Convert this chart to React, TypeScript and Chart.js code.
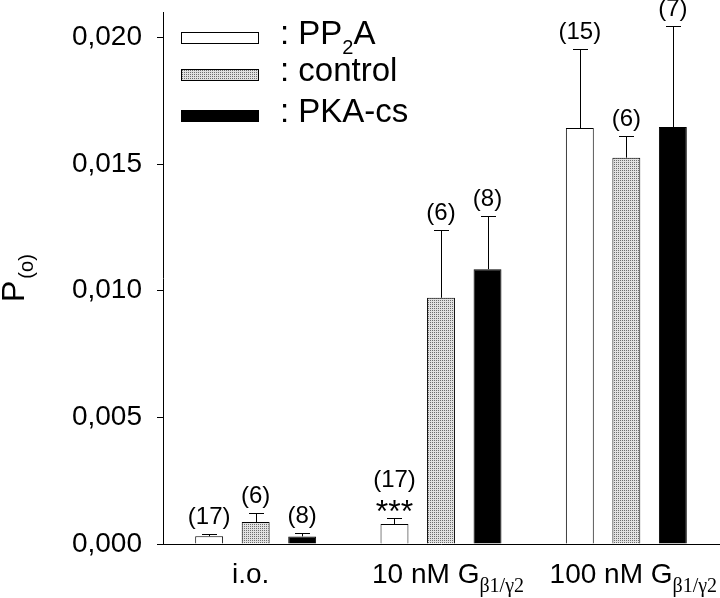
import React, { useEffect, useRef } from "react";
import { Chart, registerables } from "chart.js";

Chart.register(...registerables);

// ---- data ----
const categories = ["i.o.", "10 nM G", "100 nM G"];
const categorySubs = ["", "β1/γ2", "β1/γ2"];
const seriesNames = ["PP", "control", "PKA-cs"];

const pp2aValues = [0.00031, 0.00079, 0.01642];
const pp2aSem = [0.0001, 0.00022, 0.0031];
const pp2aN = ["(17)", "(17)", "(15)"];
const pp2aSig = ["", "***", ""];

const controlValues = [0.00087, 0.00972, 0.01525];
const controlSem = [0.00034, 0.00268, 0.00084];
const controlN = ["(6)", "(6)", "(6)"];

const pkaValues = [0.0003, 0.01085, 0.01646];
const pkaSem = [0.00015, 0.00208, 0.004];
const pkaN = ["(8)", "(8)", "(7)"];

const yTicks = [0, 0.005, 0.01, 0.015, 0.02];
const yMax = 0.021;

const SANS = "'Liberation Sans', Arial, Helvetica, sans-serif";
const SERIF = "'Liberation Serif', 'Times New Roman', serif";

function makePattern(): CanvasPattern | string {
  const c = document.createElement("canvas");
  c.width = 2;
  c.height = 2;
  const g = c.getContext("2d");
  if (!g) return "#c4c4c4";
  g.fillStyle = "#e2e2e2";
  g.fillRect(0, 0, 2, 2);
  g.fillStyle = "#6e6e6e";
  g.fillRect(0, 0, 1, 1);
  const p = g.createPattern(c, "repeat");
  return p || "#c4c4c4";
}

export default function App() {
  const ref = useRef<HTMLCanvasElement | null>(null);

  useEffect(() => {
    const canvas = ref.current;
    if (!canvas) return;
    const pattern = makePattern();
    const sems = [pp2aSem, controlSem, pkaSem];
    const ns = [pp2aN, controlN, pkaN];
    const fills: any[] = ["#ffffff", pattern, "#000000"];

    const overlay = {
      id: "overlay",
      afterDatasetsDraw(chart: any) {
        const ctx = chart.ctx as CanvasRenderingContext2D;
        const yScale = chart.scales.y;
        const xScale = chart.scales.x;
        const area = chart.chartArea;
        ctx.save();
        // error bars + n labels
        for (let d = 0; d < 3; d++) {
          const meta = chart.getDatasetMeta(d);
          const vals = chart.data.datasets[d].data as number[];
          meta.data.forEach((el: any, i: number) => {
            const x = el.x;
            const top = el.y;
            const errY = yScale.getPixelForValue(vals[i] + sems[d][i]);
            ctx.strokeStyle = "#000";
            ctx.lineWidth = 1;
            ctx.beginPath();
            ctx.moveTo(Math.round(x) + 0.5, top);
            ctx.lineTo(Math.round(x) + 0.5, Math.round(errY) + 0.5);
            ctx.moveTo(Math.round(x) - 7, Math.round(errY) + 0.5);
            ctx.lineTo(Math.round(x) + 8, Math.round(errY) + 0.5);
            ctx.stroke();
            ctx.fillStyle = "#000";
            ctx.textAlign = "center";
            ctx.textBaseline = "alphabetic";
            let base = errY - 10;
            if (d === 0 && pp2aSig[i]) {
              ctx.font = `32px ${SANS}`;
              ctx.fillText(pp2aSig[i], x, errY + 4);
              base = errY - 31;
            }
            ctx.font = `24px ${SANS}`;
            ctx.fillText(ns[d][i], x, base);
          });
        }
        // x labels
        ctx.textBaseline = "alphabetic";
        categories.forEach((c, i) => {
          const cx = xScale.getPixelForValue(i) + (categorySubs[i] ? 7 : -5);
          ctx.font = `28px ${SANS}`;
          const w1 = ctx.measureText(c).width;
          ctx.font = `20px ${SERIF}`;
          const w2 = categorySubs[i] ? ctx.measureText(categorySubs[i]).width : 0;
          const left = cx - (w1 + w2) / 2;
          ctx.textAlign = "left";
          ctx.font = `28px ${SANS}`;
          ctx.fillText(c, left, area.bottom + 39);
          if (categorySubs[i]) {
            ctx.font = `20px ${SERIF}`;
            ctx.fillText(categorySubs[i], left + w1, area.bottom + 48);
          }
        });
        // y title
        ctx.save();
        ctx.translate(24, 302);
        ctx.rotate(-Math.PI / 2);
        ctx.textAlign = "left";
        ctx.font = `32px ${SANS}`;
        ctx.fillText("P", 0, 0);
        const pw = ctx.measureText("P").width;
        ctx.font = `20px ${SANS}`;
        ctx.fillText("(o)", pw + 2, 9);
        ctx.restore();
        // legend
        const lx = area.left + 18;
        const rows = [32, 69, 110];
        rows.forEach((ry, k) => {
          ctx.fillStyle = fills[k];
          ctx.fillRect(lx, ry, 78, 12);
          ctx.strokeStyle = "#000";
          ctx.lineWidth = 1;
          ctx.strokeRect(lx + 0.5, ry + 0.5, 77, 11);
          ctx.fillStyle = "#000";
          ctx.textAlign = "left";
          ctx.font = `33px ${SANS}`;
          const tx = lx + 99;
          const by = ry + 12;
          if (k === 0) {
            const s1 = ": " + seriesNames[0];
            ctx.fillText(s1, tx, by);
            const w = ctx.measureText(s1).width;
            ctx.font = `20px ${SANS}`;
            ctx.fillText("2", tx + w, by + 10);
            const w2 = ctx.measureText("2").width;
            ctx.font = `33px ${SANS}`;
            ctx.fillText("A", tx + w + w2, by);
          } else {
            ctx.fillText(": " + seriesNames[k], tx, by);
          }
        });
        ctx.restore();
      },
    };

    const chart = new Chart(canvas, {
      type: "bar",
      data: {
        labels: categories,
        datasets: [
          { label: "PP2A", data: pp2aValues, backgroundColor: "#ffffff", borderColor: "#000", borderWidth: 1 },
          { label: "control", data: controlValues, backgroundColor: pattern as any, borderColor: "#000", borderWidth: 1 },
          { label: "PKA-cs", data: pkaValues, backgroundColor: "#000000", borderColor: "#000", borderWidth: 1 },
        ],
      },
      options: {
        responsive: false,
        animation: false,
        devicePixelRatio: 1,
        layout: { padding: { top: 12, right: 1, left: 0, bottom: 0 } },
        datasets: { bar: { categoryPercentage: 0.753, barPercentage: 0.6 } },
        plugins: { legend: { display: false }, tooltip: { enabled: false } },
        scales: {
          x: {
            type: "category",
            grid: { display: false },
            ticks: { display: false },
            border: { display: true, color: "#000", width: 1 },
            afterFit: (s: any) => {
              s.height = 54;
              s.paddingLeft = 0;
              s.paddingRight = 0;
            },
          },
          y: {
            type: "linear",
            min: 0,
            max: yMax,
            afterBuildTicks: (s: any) => {
              s.ticks = yTicks.map((v) => ({ value: v }));
            },
            ticks: {
              stepSize: 0.005,
              includeBounds: false,
              color: "#000",
              padding: 15,
              font: { family: SANS, size: 28 },
              callback: (v: any) => Number(v).toFixed(3).replace(".", ","),
            },
            grid: { drawOnChartArea: false, drawTicks: true, tickLength: 6, color: "#000", lineWidth: 1 },
            border: { display: true, color: "#000", width: 1 },
            afterFit: (s: any) => {
              s.width = 163;
              s.paddingTop = 0;
              s.paddingBottom = 0;
            },
          },
        },
      },
      plugins: [overlay],
    });
    return () => chart.destroy();
  }, []);

  return (
    <div style={{ position: "fixed", left: 0, top: 0, width: 720, height: 598, background: "#fff" }}>
      <canvas ref={ref} width={720} height={598} style={{ display: "block", width: 720, height: 598 }} />
    </div>
  );
}
